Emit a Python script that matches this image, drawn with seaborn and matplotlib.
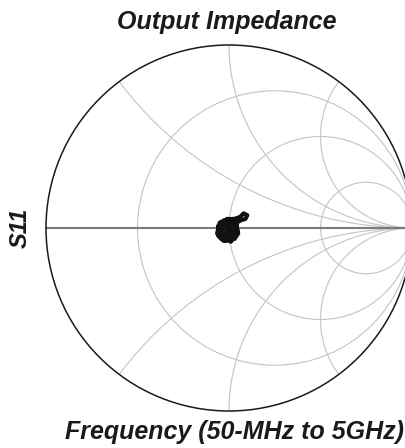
import numpy as np
import pandas as pd
import matplotlib
matplotlib.use('Agg')
import matplotlib.pyplot as plt
from matplotlib.patches import Circle
import seaborn as sns

# Smith chart grid values
r_values = [1/3, 1, 3]
x_values = [0.5, 1, 2]

s11_re = [-0.02, 0.01, 0.03, 0.02, -0.03, -0.06, -0.05, -0.01, 0.03, 0.04,
          0.01, -0.04, -0.065, -0.05, 0.00, 0.04, 0.045, 0.02, -0.03, -0.06,
          -0.04, 0.01, 0.04, 0.05, 0.03, -0.02, -0.05, -0.03, 0.02, 0.04,
          0.02, -0.02, -0.05, -0.06, -0.02, 0.03, 0.06, 0.08, 0.10, 0.09,
          0.06, 0.03, 0.00, -0.03, -0.05, -0.04, 0.00, 0.02, 0.03, 0.01,
          -0.02, -0.04, -0.03, 0.00, 0.02, -0.01]
s11_im = [0.00, 0.03, 0.01, -0.03, -0.05, -0.02, 0.02, 0.05, 0.04, 0.00,
          -0.04, -0.06, -0.03, 0.03, 0.05, 0.03, -0.02, -0.06, -0.07, -0.04,
          0.01, 0.04, 0.02, -0.03, -0.06, -0.05, 0.00, 0.04, 0.05, 0.01,
          -0.05, -0.07, -0.04, 0.01, 0.04, 0.05, 0.06, 0.08, 0.07, 0.05,
          0.04, 0.02, -0.01, -0.03, 0.00, 0.03, 0.02, -0.02, -0.05, -0.075,
          -0.06, -0.02, 0.02, 0.01, -0.03, 0.00]

df = pd.DataFrame({"re": s11_re, "im": s11_im})

sns.set_style("white")
plt.rcParams['font.family'] = ['Liberation Sans', 'DejaVu Sans']

fig = plt.figure(figsize=(4.06, 4.48), dpi=100)
ax = fig.add_axes([0, 0, 1, 1])
cx, cy, R = 229, 228, 183
ax.set_xlim((0 - cx) / R, (406 - cx) / R)
ax.set_ylim((cy - 448) / R, cy / R)

unit = Circle((0, 0), 1, transform=ax.transData, fill=False, edgecolor='none')
ax.add_patch(unit)

grid_c = '#c4c4c4'
for r in r_values:
    ax.add_patch(Circle((r / (r + 1), 0), 1 / (r + 1), fill=False,
                        edgecolor=grid_c, lw=0.8))
for xv in x_values:
    for s in (1, -1):
        c = Circle((1, s / xv), 1 / xv, fill=False, edgecolor=grid_c, lw=0.8)
        ax.add_patch(c)
        c.set_clip_path(unit)

ax.plot([-1, 1], [0, 0], color='#7a7a7a', lw=1.5, zorder=2)
ax.add_patch(Circle((0, 0), 1, fill=False, edgecolor='#1a1a1a', lw=1.1, zorder=3))

sns.lineplot(data=df, x="re", y="im", sort=False, estimator=None, color='#111111',
             lw=3.0, ax=ax, zorder=4)
ax.set_xlabel('')
ax.set_ylabel('')
ax.axis('off')

txt = '#1a1a1a'
fig.text(227 / 406, 1 - 22 / 448, 'Output Impedance', ha='center', va='center',
         fontsize=18, fontweight='bold', style='italic', color=txt)
fig.text(20 / 406, 1 - 228 / 448, 'S11', ha='center', va='center', rotation=90,
         fontsize=17, fontweight='bold', style='italic', color=txt)
fig.text(235 / 406, 1 - 432 / 448, 'Frequency (50-MHz to 5GHz)', ha='center',
         va='center', fontsize=18, fontweight='bold', style='italic', color=txt)

fig.savefig('out.png', dpi=100)
